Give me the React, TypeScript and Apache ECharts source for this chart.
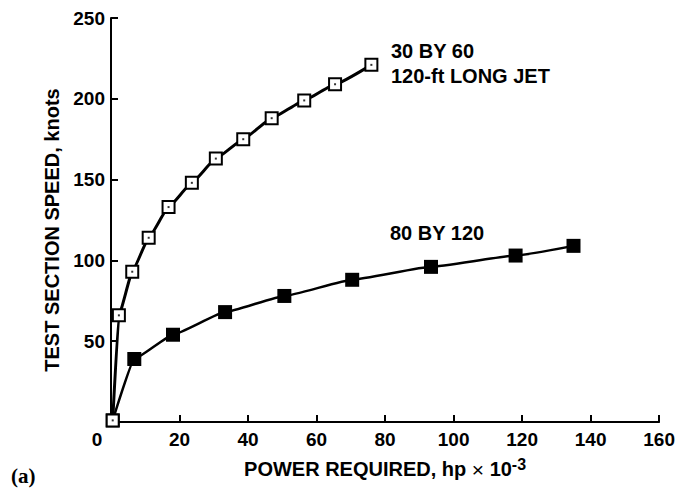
import React, { useEffect, useRef } from "react";
import * as echarts from "echarts";

const jetX = [0.5, 2.3, 6.2, 11, 16.8, 23.6, 30.6, 38.6, 46.9, 56.4, 65.4, 76];
const jetY = [1, 66, 93, 114, 133, 148, 163, 175, 188, 199, 209, 221];
const bigX = [0.5, 6.8, 18.1, 33.3, 50.6, 70.4, 93.4, 118.1, 135];
const bigY = [1, 39, 54, 68, 78, 88, 96, 103, 109];
const jetLabel1 = "30 BY 60";
const jetLabel2 = "120-ft LONG JET";
const bigLabel = "80 BY 120";
const xTitle = "POWER REQUIRED, hp ";
const yTitle = "TEST SECTION SPEED, knots";

const FONT = "'Liberation Sans', Arial, Helvetica, sans-serif";

export default function App() {
  const ref = useRef<HTMLDivElement>(null);
  useEffect(() => {
    if (!ref.current) return;
    const chart = echarts.init(ref.current, null, { renderer: "svg" });
    const jet = jetX.map((x, i) => [x, jetY[i]]);
    const big = bigX.map((x, i) => [x, bigY[i]]);
    chart.setOption({
      animation: false,
      backgroundColor: "#fff",
      grid: { left: 111, right: 13, top: 18, bottom: 69 },
      xAxis: {
        type: "value",
        min: 0,
        max: 160,
        interval: 20,
        name: xTitle + "{x|×} 10{sup|-3}",
        nameLocation: "middle",
        nameGap: 34,
        nameTextStyle: {
          fontFamily: FONT,
          fontWeight: "bold",
          fontSize: 20,
          color: "#000",
          rich: {
            x: { fontFamily: FONT, fontWeight: "normal", fontSize: 21, color: "#000" },
            sup: {
              fontFamily: FONT,
              fontWeight: "bold",
              fontSize: 16,
              color: "#000",
              verticalAlign: "top",
              padding: [0, 0, 10, 0],
            },
          },
        },
        axisLine: { show: true, lineStyle: { color: "#000", width: 2 } },
        axisTick: { show: true, inside: true, length: 7, lineStyle: { color: "#000", width: 2 } },
        splitLine: { show: false },
        axisLabel: {
          margin: 8,
          color: "#000",
          fontFamily: FONT,
          fontWeight: "bold",
          fontSize: 19,
          formatter: (v: number) => (v === 0 ? "{z|0}" : String(v)),
          rich: {
            z: { fontFamily: FONT, fontWeight: "bold", fontSize: 19, color: "#000", padding: [0, 28, 0, 0] },
          },
        },
      },
      yAxis: {
        type: "value",
        min: 0,
        max: 250,
        interval: 50,
        name: yTitle,
        nameLocation: "middle",
        nameGap: 44,
        nameTextStyle: {
          fontFamily: FONT,
          fontWeight: "bold",
          fontSize: 20,
          color: "#000",
          padding: [0, 20, 0, 0],
        },
        axisLine: { show: true, lineStyle: { color: "#000", width: 2 } },
        axisTick: { show: true, inside: true, length: 7, lineStyle: { color: "#000", width: 2 } },
        splitLine: { show: false },
        axisLabel: {
          margin: 6,
          color: "#000",
          fontFamily: FONT,
          fontWeight: "bold",
          fontSize: 19,
          formatter: (v: number) => (v === 0 ? "" : String(v)),
        },
      },
      series: [
        {
          type: "line",
          data: big,
          smooth: 0.12,
          smoothMonotone: "x",
          lineStyle: { color: "#000", width: 2.5 },
          symbol: "rect",
          symbolSize: 14,
          itemStyle: { color: "#000", borderColor: "#000", borderWidth: 0 },
          z: 2,
        },
        {
          type: "line",
          data: jet,
          smooth: 0.12,
          smoothMonotone: "x",
          lineStyle: { color: "#000", width: 3 },
          symbol: "rect",
          symbolSize: 12,
          showAllSymbol: true,
          itemStyle: { color: "#fff", borderColor: "#000", borderWidth: 2 },
          z: 3,
        },
        {
          type: "scatter",
          data: jet,
          symbol: "rect",
          symbolSize: 2,
          itemStyle: { color: "#000" },
          z: 4,
        },
      ],
      graphic: [
        {
          type: "text",
          left: 391,
          top: 41,
          style: { text: jetLabel1, font: `bold 20px ${FONT}`, fill: "#000" },
        },
        {
          type: "text",
          left: 391,
          top: 66,
          style: { text: jetLabel2, font: `bold 20px ${FONT}`, fill: "#000" },
        },
        {
          type: "text",
          left: 390,
          top: 223,
          style: { text: bigLabel, font: `bold 20px ${FONT}`, fill: "#000" },
        },
        {
          type: "text",
          left: 11,
          top: 465,
          style: { text: "(a)", font: `bold 21px 'Liberation Serif', 'Times New Roman', serif`, fill: "#000" },
        },
      ],
    });
    return () => chart.dispose();
  }, []);
  return <div ref={ref} style={{ width: 678, height: 491, position: "fixed", left: 0, top: 0 }} />;
}
